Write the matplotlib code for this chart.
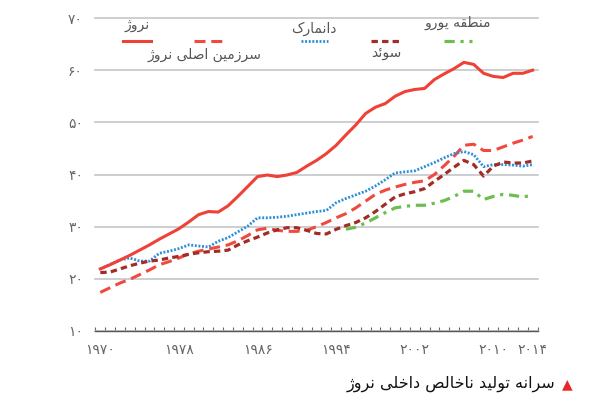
import numpy as np
from matplotlib import pyplot as plt

plt.rcParams['font.family'] = ['DejaVu Sans']

years = np.arange(1970, 2015)
norway = [21.9, 22.7, 23.6, 24.5, 25.5, 26.5, 27.6, 28.6, 29.6, 30.9,
          32.3, 32.9, 32.8, 34.0, 35.8, 37.7, 39.6, 39.9, 39.6, 39.9,
          40.4, 41.6, 42.7, 44.0, 45.6, 47.6, 49.5, 51.7, 52.9, 53.6,
          55.0, 55.9, 56.3, 56.5, 58.2, 59.3, 60.3, 61.5, 61.1, 59.4,
          58.8, 58.6, 59.4, 59.4, 60.0]
mainland = [17.4, 18.3, 19.2, 19.9, 20.8, 21.7, 22.7, 23.3, 24.0, 24.8,
            25.3, 25.7, 26.1, 26.5, 27.3, 28.3, 29.4, 29.7, 29.3, 29.1,
            29.1, 29.3, 30.0, 30.8, 31.7, 32.5, 33.6, 34.9, 36.2, 37.0,
            37.6, 38.1, 38.5, 38.8, 40.0, 41.7, 43.5, 45.6, 45.8, 44.6,
            44.6, 45.3, 46.0, 46.6, 47.3]
denmark = [21.9, 22.8, 23.6, 24.0, 23.4, 23.4, 24.9, 25.3, 25.8, 26.5,
           26.3, 26.1, 27.2, 27.9, 29.0, 30.1, 31.7, 31.7, 31.8, 32.0,
           32.3, 32.6, 32.9, 33.1, 34.6, 35.4, 36.1, 36.8, 37.8, 39.0,
           40.3, 40.5, 40.7, 41.5, 42.3, 43.2, 44.0, 44.4, 43.8, 41.5,
           41.9, 41.9, 41.8, 41.6, 41.9]
sweden = [21.2, 21.3, 21.9, 22.5, 23.0, 23.4, 23.6, 24.0, 24.3, 24.7,
          25.0, 25.2, 25.3, 25.5, 26.5, 27.3, 28.0, 28.8, 29.4, 29.8,
          29.8, 29.3, 28.7, 28.6, 29.5, 30.2, 30.8, 31.7, 32.9, 34.3,
          35.7, 36.3, 36.7, 37.3, 38.7, 40.0, 41.4, 42.7, 41.9, 39.7,
          41.6, 42.4, 42.2, 42.2, 42.6]
euro_years = np.arange(1995, 2015)
eurozone = [29.5, 29.9, 30.7, 31.7, 32.7, 33.6, 33.9, 34.1, 34.1, 34.5,
            35.0, 35.8, 36.8, 36.8, 35.2, 35.8, 36.2, 36.0, 35.7, 36.0]

xtick_years = [1970, 1978, 1986, 1994, 2002, 2010, 2014]
ytick_vals = [10, 20, 30, 40, 50, 60, 70]

# persian digits and a tiny shaper, matplotlib has no bidi / joining
FA = str.maketrans('0123456789', '۰۱۲۳۴۵۶۷۸۹')
FORMS = {
    'ا': ('\ufe8d', '\ufe8e', None, None),
    'ت': ('\ufe95', '\ufe96', '\ufe97', '\ufe98'),
    'خ': ('\ufea5', '\ufea6', '\ufea7', '\ufea8'),
    'د': ('\ufea9', '\ufeaa', None, None),
    'ر': ('\ufead', '\ufeae', None, None),
    'ز': ('\ufeaf', '\ufeb0', None, None),
    'ژ': ('\ufb8a', '\ufb8b', None, None),
    'س': ('\ufeb1', '\ufeb2', '\ufeb3', '\ufeb4'),
    'ص': ('\ufeb9', '\ufeba', '\ufebb', '\ufebc'),
    'ط': ('\ufec1', '\ufec2', '\ufec3', '\ufec4'),
    'ق': ('\ufed5', '\ufed6', '\ufed7', '\ufed8'),
    'ک': ('\ufb8e', '\ufb8f', '\ufb90', '\ufb91'),
    'ل': ('\ufedd', '\ufede', '\ufedf', '\ufee0'),
    'م': ('\ufee1', '\ufee2', '\ufee3', '\ufee4'),
    'ن': ('\ufee5', '\ufee6', '\ufee7', '\ufee8'),
    'ه': ('\ufee9', '\ufeea', '\ufeeb', '\ufeec'),
    'و': ('\ufeed', '\ufeee', None, None),
    'ی': ('\ufbfc', '\ufbfd', '\ufbfe', '\ufbff'),
    'ئ': ('\ufe89', '\ufe8a', '\ufe8b', '\ufe8c'),
}


def fa(text):
    out = []
    for i, ch in enumerate(text):
        if ch not in FORMS:
            out.append(ch)
            continue
        iso, fin, ini, med = FORMS[ch]
        prev = text[i - 1] if i > 0 else ''
        nxt = text[i + 1] if i + 1 < len(text) else ''
        jp = prev in FORMS and FORMS[prev][2] is not None
        jn = nxt in FORMS and ini is not None
        if jp and jn:
            out.append(med)
        elif jp:
            out.append(fin)
        elif jn:
            out.append(ini)
        else:
            out.append(iso)
    return ''.join(reversed(out))


c_nor = '#ef4136'
c_main = '#f04a3f'
c_den = '#2a8fd8'
c_swe = '#a22d27'
c_eur = '#6cbf4f'

st_nor = dict(color=c_nor, lw=2.2)
st_main = dict(color=c_main, lw=2.2, dashes=(3.6, 1.9))
st_den = dict(color=c_den, lw=2.0, dashes=(0.7, 0.6))
st_swe = dict(color=c_swe, lw=2.3, dashes=(2.0, 1.3))
st_eur = dict(color=c_eur, lw=2.3, dashes=(3.2, 1.8, 1.0, 1.8))

fig = plt.figure(figsize=(6, 4), dpi=100)
ax = fig.add_axes([0.159, 0.1725, 0.737, 0.7825])

ax.plot(years, norway, zorder=5, **st_nor)
ax.plot(years, mainland, zorder=4, **st_main)
ax.plot(years, denmark, zorder=4, **st_den)
ax.plot(years, sweden, zorder=4, **st_swe)
ax.plot(euro_years, eurozone, zorder=4, **st_eur)

ax.set_xlim(1969.5, 2014.5)
ax.set_ylim(10, 70)
ax.set_yticks(ytick_vals)
ax.set_yticklabels([str(v).translate(FA) for v in ytick_vals])
ax.set_xticks(xtick_years)
ax.set_xticklabels([str(v).translate(FA) for v in xtick_years])
ax.set_xticks(np.arange(1969.5, 2015, 1), minor=True)

ax.grid(axis='y', color='#c4c7cb', lw=1.2)
for gl in ax.get_ygridlines():
    gl.set_clip_on(False)
ax.set_axisbelow(True)

for s in ['top', 'left', 'right']:
    ax.spines[s].set_visible(False)
ax.spines['bottom'].set_color('#555555')
ax.spines['bottom'].set_linewidth(1.0)

ax.tick_params(axis='y', length=0, pad=9, labelsize=10, labelcolor='#666666')
ax.tick_params(axis='x', which='major', length=0, pad=9, labelsize=10, labelcolor='#666666')
ax.tick_params(axis='x', which='minor', direction='in', length=3, width=0.8, color='#666666')

# legend keys and labels, placed like the original
keys = [
    (0.063, 0.125, 0.095, 0.978, 'نروژ', st_nor),
    (0.223, 0.289, 0.247, 0.882, 'سرزمین اصلی نروژ', st_main),
    (0.464, 0.525, 0.493, 0.967, 'دانمارک', st_den),
    (0.623, 0.687, 0.658, 0.887, 'سوئد', st_swe),
    (0.789, 0.852, 0.819, 0.983, 'منطقه یورو', st_eur),
]
for x0, x1, tx, ty, name, st in keys:
    ax.plot([x0, x1], [0.926, 0.926], transform=ax.transAxes, clip_on=False, **st)
    ax.text(tx, ty, fa(name), transform=ax.transAxes, ha='center', va='center',
            fontsize=10, color='#555555')

fig.text(0.955, 0.04, '▲', color='#e8262a', fontsize=10, ha='right', va='center')
fig.text(0.925, 0.04, fa('سرانه تولید ناخالص داخلی نروژ'), color='#111111',
         fontsize=11.5, ha='right', va='center')

plt.savefig('out.png', dpi=100)
